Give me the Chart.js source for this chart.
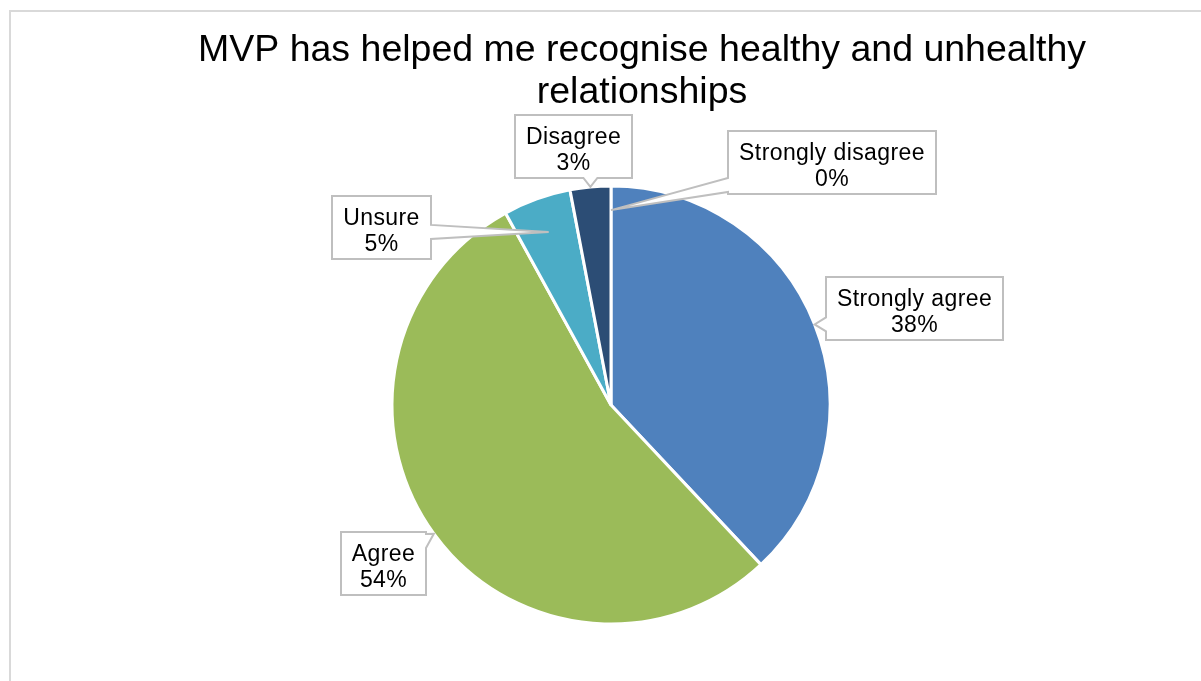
<!DOCTYPE html>
<html>
<head>
<meta charset="utf-8">
<script src="https://cdn.jsdelivr.net/npm/chart.js@4.4.0/dist/chart.umd.min.js"></script>
<style>
  body { margin: 0; background: #fff; overflow: hidden; }
  #frame { position: absolute; left: 9px; top: 10px; width: 1300px; height: 800px; border: 2px solid #d9d9d9; }
  #wrap { position: absolute; left: 0; top: 0; width: 1201px; height: 681px; }
</style>
</head>
<body>
<div id="frame"></div>
<div id="wrap"><canvas id="myChart"></canvas></div>
<script>
const titleLines = ["MVP has helped me recognise healthy and unhealthy", "relationships"];
const labels = ["Strongly agree", "Agree", "Unsure", "Disagree", "Strongly disagree"];
const percents = [38, 54, 5, 3, 0];
const colors = ["#4F81BD", "#9BBB59", "#4BACC6", "#2C4D75", "#C0504D"];

// label box centres, as offsets from the pie centre, and how deep the pointer goes into the slice
const boxOffsets = [[303, -97], [-228, 158], [-230, -178], [-38, -259], [221, -243]];
const anchorDepth = [1, 1, 0.84, 1, 0.89];

const FONT = '"Liberation Sans", Arial, sans-serif';

// title is drawn by hand so it can sit off the pie's centre line
const titlePlugin = {
    id: 'titleText',
    afterDraw(chart) {
        const ctx = chart.ctx;
        ctx.save();
        ctx.font = '37.5px ' + FONT;
        ctx.fillStyle = '#000';
        ctx.textAlign = 'center';
        ctx.textBaseline = 'alphabetic';
        ctx.fillText(titleLines[0], 642, 61);
        ctx.fillText(titleLines[1], 642, 103);
        ctx.restore();
    }
};

// boxed data labels with a pointer wedge towards each slice
const callouts = {
    id: 'callouts',
    afterDatasetsDraw(chart) {
        const ctx = chart.ctx;
        const arcs = chart.getDatasetMeta(0).data;
        ctx.save();
        ctx.font = '23px ' + FONT;
        ctx.letterSpacing = '0.4px';
        arcs.forEach((arc, i) => {
            const p = arc.getProps(['x', 'y', 'startAngle', 'endAngle', 'outerRadius'], true);
            const mid = (p.startAngle + p.endAngle) / 2;
            const r = p.outerRadius * anchorDepth[i];
            const ax = p.x + Math.cos(mid) * r;
            const ay = p.y + Math.sin(mid) * r;

            const text = [labels[i], percents[i] + '%'];
            const w = Math.round(Math.max(...text.map(t => ctx.measureText(t).width)) + 22);
            const h = 63;
            const bx = Math.round(p.x + boxOffsets[i][0] - w / 2);
            const by = Math.round(p.y + boxOffsets[i][1] - h / 2);

            const bw = 14;
            const clamp = (v, a, b) => Math.max(a, Math.min(b, v));
            let pts = [[bx, by], [bx + w, by], [bx + w, by + h], [bx, by + h]];
            let c;
            if (ax < bx) {
                c = clamp(ay, by + bw / 2 + 2, by + h - bw / 2 - 2);
                pts.splice(4, 0, [bx, c + bw / 2], [ax, ay], [bx, c - bw / 2]);
            } else if (ax > bx + w) {
                c = clamp(ay, by + bw / 2 + 2, by + h - bw / 2 - 2);
                pts.splice(2, 0, [bx + w, c - bw / 2], [ax, ay], [bx + w, c + bw / 2]);
            } else if (ay > by + h) {
                c = clamp(ax, bx + bw / 2 + 2, bx + w - bw / 2 - 2);
                pts.splice(3, 0, [c + bw / 2, by + h], [ax, ay], [c - bw / 2, by + h]);
            } else {
                c = clamp(ax, bx + bw / 2 + 2, bx + w - bw / 2 - 2);
                pts.splice(1, 0, [c - bw / 2, by], [ax, ay], [c + bw / 2, by]);
            }

            ctx.beginPath();
            pts.forEach((pt, k) => k ? ctx.lineTo(pt[0], pt[1]) : ctx.moveTo(pt[0], pt[1]));
            ctx.closePath();
            ctx.fillStyle = '#fff';
            ctx.fill();
            ctx.lineWidth = 2;
            ctx.strokeStyle = '#bfbfbf';
            ctx.lineJoin = 'miter';
            ctx.stroke();

            ctx.fillStyle = '#000';
            ctx.textAlign = 'center';
            ctx.textBaseline = 'alphabetic';
            ctx.fillText(text[0], bx + w / 2, by + 29);
            ctx.fillText(text[1], bx + w / 2, by + 55);
        });
        ctx.restore();
    }
};

const ctx = document.getElementById("myChart").getContext("2d");
const myChart = new Chart(ctx, {
    type: "pie",
    data: {
        labels: labels,
        datasets: [{
            data: percents,
            backgroundColor: colors,
            borderColor: '#fff',
            borderWidth: 3
        }]
    },
    options: {
        responsive: true,
        maintainAspectRatio: false,
        animation: false,
        radius: 219,
        layout: { padding: { left: 393, right: 372, top: 186, bottom: 57 } },
        plugins: {
            legend: { display: false },
            title: { display: false },
            tooltip: { enabled: false }
        }
    },
    plugins: [callouts, titlePlugin]
});
</script>
</body>
</html>
